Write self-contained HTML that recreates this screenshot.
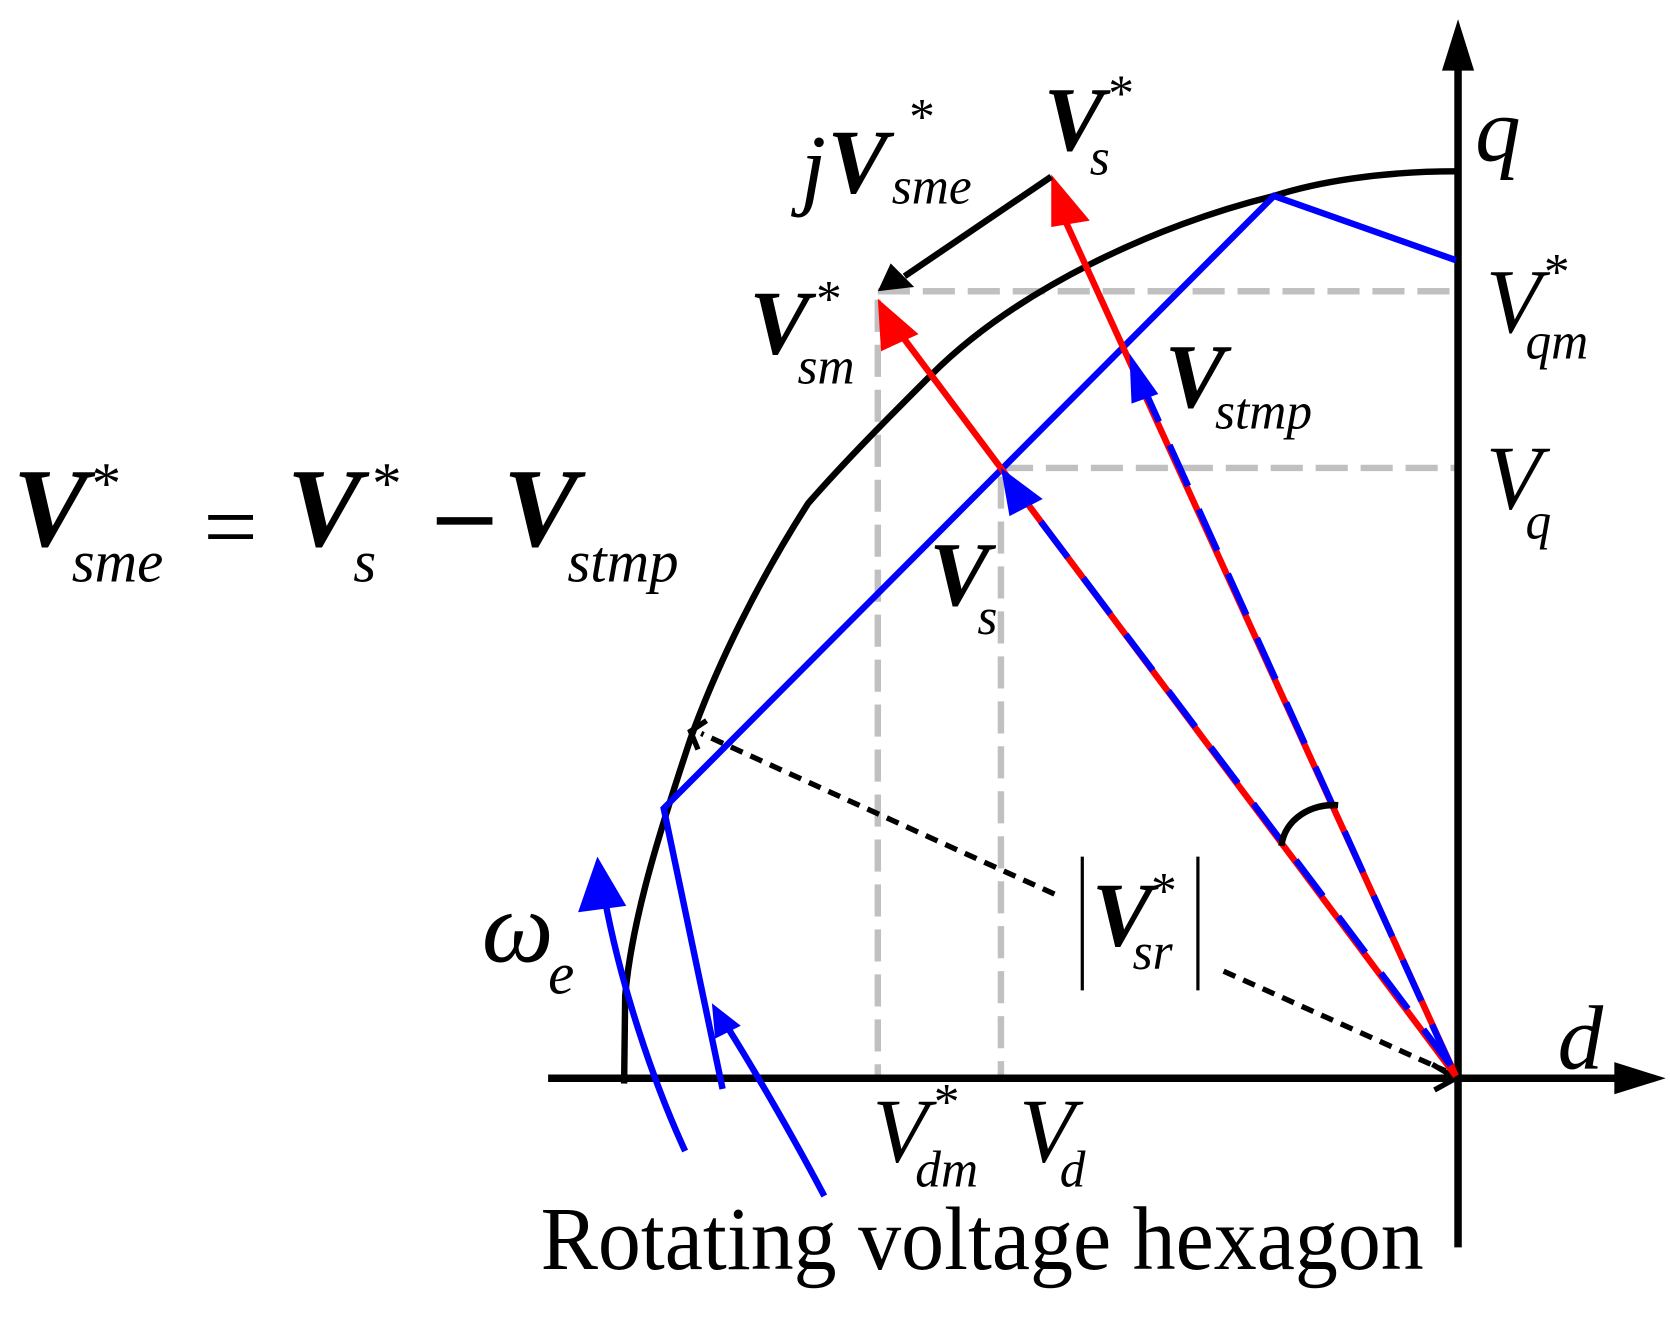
<!DOCTYPE html>
<html><head><meta charset="utf-8"><style>
html,body{margin:0;padding:0;background:#fff;}
svg{display:block;}
text{font-family:"Liberation Serif",serif;font-style:italic;fill:#000;}
.b{font-weight:bold;}
</style></head><body>
<svg width="1670" height="1317" viewBox="0 0 1560 1230" preserveAspectRatio="none" xmlns="http://www.w3.org/2000/svg">
<!-- gray dashed projections -->
<g stroke="#c0c0c0" stroke-width="6" stroke-dasharray="30,12" fill="none">
<line x1="820" y1="272" x2="1360" y2="272"/>
<line x1="935" y1="437" x2="1360" y2="437"/>
<line x1="820" y1="280" x2="820" y2="1005"/>
<line x1="935" y1="445" x2="935" y2="1005"/>
</g>
<!-- axes -->
<g stroke="#000" stroke-width="7" fill="none">
<line x1="512" y1="1007" x2="1520" y2="1007"/>
<line x1="1362" y1="1165" x2="1362" y2="60"/>
</g>
<path d="M1362,18 L1347,66 L1377,66 z" fill="#000"/>
<path d="M1556,1007 L1508,992 L1508,1022 z" fill="#000"/>
<path d="M1338,994 L1360,1007 L1340,1018" stroke="#000" stroke-width="5" fill="none"/>
<!-- circle arc -->
<path d="M1360,160 C1290,160 1230,170 1190,183 C1080,210 950,270 870,350 C830,390 790,430 755,470 C710,540 670,620 645,690 C615,780 590,860 584,930 L583,1012" stroke="#000" stroke-width="6" fill="none"/>
<!-- hexagon -->
<polyline points="1360,243 1190,183 620,755 675,1017" stroke="#0000ff" stroke-width="6" fill="none"/>
<!-- red vectors -->
<g stroke="#ff0000" stroke-width="6">
<line x1="1360" y1="1005" x2="990" y2="195"/>
<line x1="1360" y1="1005" x2="836" y2="305"/>
</g>
<path d="M982,163 L1018,206 L982,212 z" fill="#ff0000"/>
<path d="M820,279 L858,312 L823,328 z" fill="#ff0000"/>
<!-- blue dashed overlays -->
<g stroke="#0000ff" stroke-width="6" stroke-dasharray="42,24">
<line x1="1355" y1="995" x2="1065" y2="355"/>
<line x1="1355" y1="995" x2="948" y2="455"/>
</g>
<path d="M1055,330 L1082,368 L1057,377 z" fill="#0000ff"/>
<path d="M935,437 L974,466 L943,482 z" fill="#0000ff"/>
<!-- jVsme black arrow -->
<line x1="982" y1="165" x2="845" y2="258" stroke="#000" stroke-width="6"/>
<path d="M820,272 L832,246 L854,268 z" fill="#000"/>
<!-- angle arc -->
<path d="M1197,790 C1200,765 1225,750 1250,752" stroke="#000" stroke-width="6" fill="none"/>
<!-- dotted lines -->
<g stroke="#000" stroke-width="5" stroke-dasharray="12,8" fill="none">
<line x1="985" y1="835" x2="655" y2="685"/>
<line x1="1143" y1="907" x2="1350" y2="1000"/>
</g>
<path d="M660,673 L645,683 L652,700" stroke="#000" stroke-width="5" fill="none"/>
<!-- rotation arrows -->
<path d="M640,1075 C610,1010 580,920 565,840" stroke="#0000ff" stroke-width="6" fill="none"/>
<path d="M558,800 L540,852 L585,846 z" fill="#0000ff"/>
<path d="M770,1117 C740,1060 705,1000 680,960" stroke="#0000ff" stroke-width="6" fill="none"/>
<path d="M665,937 L668,970 L692,958 z" fill="#0000ff"/>
<!-- labels -->
<text x="1378" y="150" font-size="85">q</text>
<text x="1455" y="998" font-size="85">d</text>
<text class="b" x="975" y="140" font-size="85">V</text>
<text x="1033" y="103" font-size="48">*</text>
<text x="1018" y="163" font-size="48">s</text>
<text x="748" y="185" font-size="85">j</text>
<text class="b" x="773" y="180" font-size="85">V</text>
<text x="847" y="125" font-size="48">*</text>
<text x="833" y="190" font-size="48">sme</text>
<text class="b" x="700" y="330" font-size="85">V</text>
<text x="760" y="295" font-size="48">*</text>
<text x="745" y="358" font-size="48">sm</text>
<text x="1388" y="310" font-size="85">V</text>
<text x="1440" y="270" font-size="48">*</text>
<text x="1425" y="335" font-size="48">qm</text>
<text class="b" x="1088" y="380" font-size="85">V</text>
<text x="1135" y="400" font-size="48">stmp</text>
<text x="1388" y="475" font-size="85">V</text>
<text x="1425" y="503" font-size="48">q</text>
<text class="b" x="868" y="565" font-size="85">V</text>
<text x="913" y="592" font-size="48">s</text>
<text x="815" y="1085" font-size="85">V</text>
<text x="870" y="1045" font-size="48">*</text>
<text x="855" y="1108" font-size="48">dm</text>
<text x="952" y="1085" font-size="85">V</text>
<text x="990" y="1108" font-size="48">d</text>
<text x="450" y="898" font-size="95">ω</text>
<text x="512" y="928" font-size="55">e</text>
<line x1="1011" y1="800" x2="1011" y2="925" stroke="#000" stroke-width="3"/>
<text class="b" x="1020" y="883" font-size="85">V</text>
<text x="1073" y="848" font-size="48">*</text>
<text x="1058" y="905" font-size="48">sr</text>
<line x1="1119" y1="800" x2="1119" y2="925" stroke="#000" stroke-width="3"/>
<text class="b" x="12" y="510" font-size="105">V</text>
<text x="83" y="470" font-size="55">*</text>
<text x="67" y="543" font-size="55">sme</text>
<text x="190" y="522" font-size="90" style="font-style:normal">=</text>
<text class="b" x="268" y="510" font-size="105">V</text>
<text x="345" y="470" font-size="55">*</text>
<text x="330" y="543" font-size="55">s</text>
<rect x="408" y="483" width="52" height="7" fill="#000"/>
<text class="b" x="470" y="510" font-size="105">V</text>
<text x="530" y="543" font-size="55">stmp</text>
<text x="505" y="1185" font-size="84" style="font-style:normal" textLength="825" lengthAdjust="spacingAndGlyphs">Rotating voltage hexagon</text>
</svg>
</body></html>
